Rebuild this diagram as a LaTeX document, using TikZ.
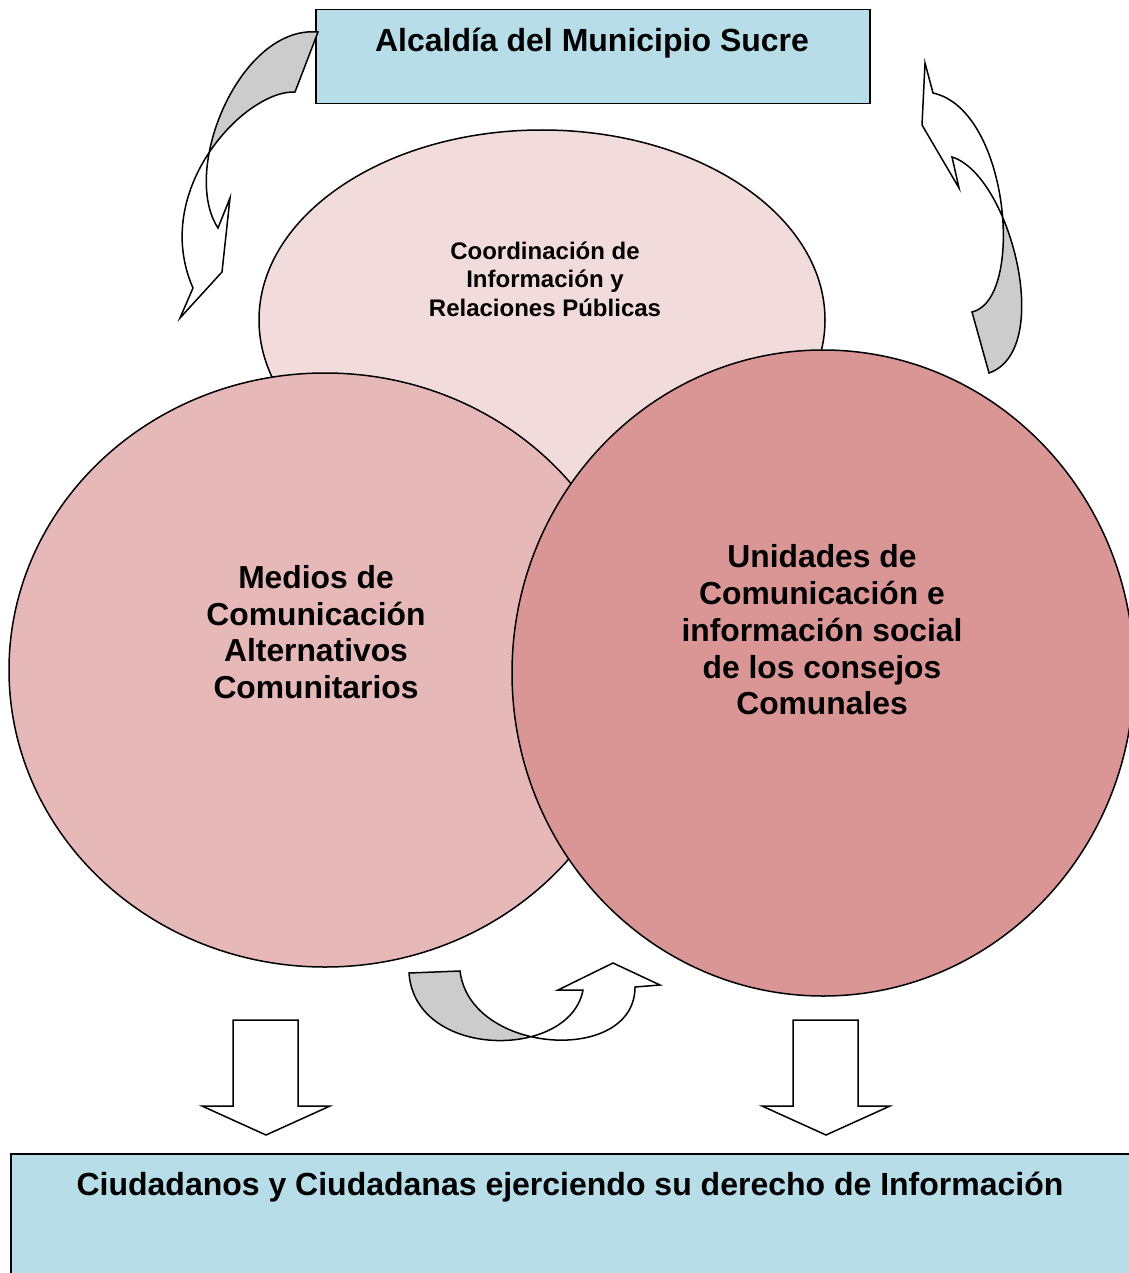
\documentclass[tikz,border=0pt]{standalone}
\usepackage{fontspec}
\setmainfont{Liberation Sans}
\usetikzlibrary{shapes.geometric}
\definecolor{celeste}{HTML}{B7DDE8}
\definecolor{rosa1}{HTML}{F2DCDB}
\definecolor{rosa2}{HTML}{E6B9B8}
\definecolor{rosa3}{HTML}{D99694}
\definecolor{grigio}{HTML}{CCCCCC}

\begin{document}
\begin{tikzpicture}[x=1pt, y=-1pt, line width=1.5pt,
        scatola/.style={draw, fill=celeste, anchor=north west, inner sep=0pt},
        ovale/.style={ellipse, draw, inner sep=0pt},
        titolo/.style={anchor=base, font=\fontsize{32}{38}\selectfont\bfseries},
        testo/.style={align=center, font=\fontsize{31.8}{36.7}\selectfont\bfseries},
        freccia/.style={draw, fill=white, line join=miter}]
            \useasboundingbox (0,0) rectangle (1128,1273);

            % Caselle
            \node[scatola, minimum width=554pt, minimum height=94pt] (alcaldia) at (315,9) {};
            \node[titolo] (alcaldiatxt) at (592,52) {Alcaldía del Municipio Sucre};
            \node[scatola, minimum width=1130pt, minimum height=130pt] (ciudadanos) at (10,1153) {};
            \node[titolo] (ciudadanostxt) at (570,1195) {Ciudadanos y Ciudadanas ejerciendo su derecho de Información};

            % Cerchi
            \node[ovale, fill=rosa1, minimum width=566pt, minimum height=380pt] (coord) at (542,320) {};
            \node[ovale, fill=rosa2, minimum width=632pt, minimum height=594pt] (medios) at (325,670) {};
            \node[ovale, fill=rosa3, minimum width=622pt, minimum height=646pt] (unidades) at (823,673) {};
            \node[testo, font=\fontsize{24}{28.5}\selectfont\bfseries] (coordtxt) at (545,279) {Coordinación de\\Información y\\Relaciones Públicas};
            \node[testo] (mediostxt) at (316,632) {Medios de\\Comunicación\\Alternativos\\Comunitarios};
            \node[testo] (unidadestxt) at (822,630) {Unidades de\\Comunicación e\\información social\\de los consejos\\Comunales};

            % Frecce curve
            \path[save path=\fsx] (318,32) -- (295,92) .. controls (245,90) and (150,190) .. (193,288)
                -- (180,318) -- (222,272) -- (230,198) -- (218,228)
                .. controls (180,170) and (240,25) .. (318,32) -- cycle;
            \path[save path=\fdx] (925,63) -- (933,93) .. controls (1010,110) and (1025,300) .. (972,312)
                -- (989,373) .. controls (1055,350) and (1010,175) .. (952,157)
                -- (959,188) -- (922,125) -- cycle;
            \path[save path=\fbas] (409,973) -- (460,971) .. controls (470,1055) and (635,1065) .. (635,987)
                -- (660,985) -- (613,963) -- (558,990) -- (583,990)
                .. controls (570,1060) and (415,1060) .. (409,973) -- cycle;
            \fill[white, use path=\fsx];
            \fill[white, use path=\fdx];
            \fill[white, use path=\fbas];
            \begin{scope}
                \clip (0,0) rectangle (1128,150);
                \fill[grigio, use path=\fsx];
            \end{scope}
            \begin{scope}
                \clip (0,215) rectangle (1128,400);
                \fill[grigio, use path=\fdx];
            \end{scope}
            \begin{scope}
                \clip (0,900) rectangle (524,1100);
                \fill[grigio, use path=\fbas];
            \end{scope}
            \draw[line join=miter, use path=\fsx];
            \draw[line join=miter, use path=\fdx];
            \draw[line join=miter, use path=\fbas];

            % Frecce in basso
            \foreach \cx in {266,826} {
                    \draw[freccia] (\cx-33,1020) -- (\cx+32,1020) -- (\cx+32,1106) -- (\cx+64,1106)
                        -- (\cx,1135) -- (\cx-64,1106) -- (\cx-33,1106) -- cycle;
                }
        \end{tikzpicture}
\end{document}
